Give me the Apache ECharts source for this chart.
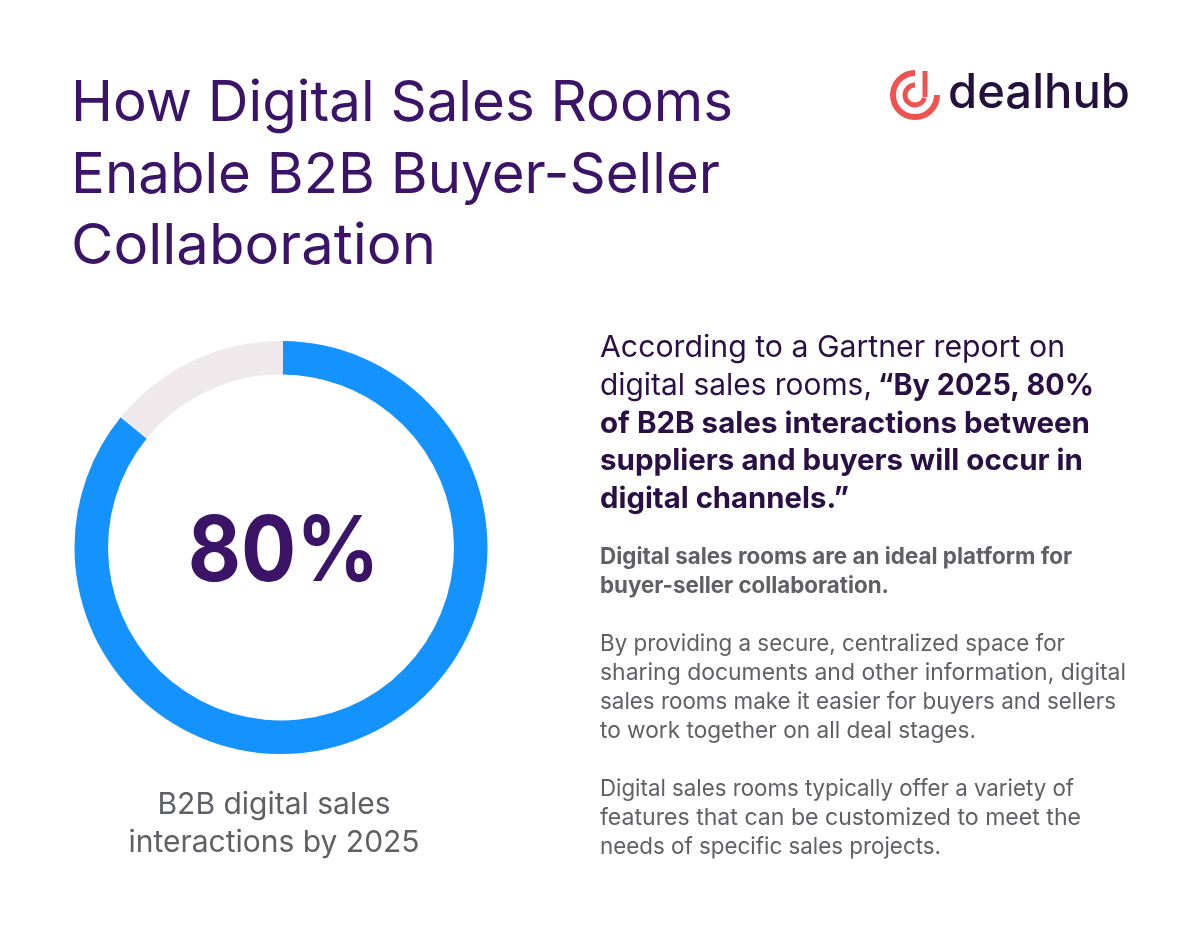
<!DOCTYPE html>
<html>
<head>
<meta charset="utf-8">
<style>
html, body { margin: 0; padding: 0; background: #fff; }
#main { width: 1200px; height: 931px; }
</style>
</head>
<body>
<div id="main"></div>
<script src="https://cdn.jsdelivr.net/npm/echarts@6/dist/echarts.min.js"></script>
<script>
// values
const sliceNames = ['B2B digital sales interactions by 2025', 'Other'];
const sliceValues = [85.7, 14.3];
const sliceColors = ['#1493ff', '#f0e9ec'];
const centerLabel = '80%';
const titleLines = ['How Digital Sales Rooms', 'Enable B2B Buyer-Seller', 'Collaboration'];
const captionLines = ['B2B digital sales', 'interactions by 2025'];
const introLines = [
    ['According to a Gartner report on', 'n'],
    ['digital sales rooms,', 'n', '“By 2025, 80%', 'b'],
    ['of B2B sales interactions between', 'b'],
    ['suppliers and buyers will occur in', 'b'],
    ['digital channels.”', 'b']
];
const subLines = ['Digital sales rooms are an ideal platform for', 'buyer-seller collaboration.'];
const bodyLines = [
    'By providing a secure, centralized space for',
    'sharing documents and other information, digital',
    'sales rooms make it easier for buyers and sellers',
    'to work together on all deal stages.',
    '',
    'Digital sales rooms typically offer a variety of',
    'features that can be customized to meet the',
    'needs of specific sales projects.'
];

// right edge of each line in the reference, the font here is a bit different
const titleEnds = [733, 720, 436];
const introEnds = [1065, 1090, 1083, 849];
const subEnds = [1072, 889];
const bodyEnds = [1065, 1126, 1116, 976, 0, 1074, 1081, 941];

const FONT = 'Inter, "Noto Sans", sans-serif';
const PURPLE = '#3b1468';
const DARK = '#2a0f45';
const GREY = '#5f5f66';
const CORAL = '#ef5350';

const measure = document.createElement('canvas').getContext('2d');
let graphics = [];

function addText(text, x, y, size, color, weight, align, endX) {
    const font = (weight || 400) + ' ' + size + 'px ' + FONT;
    let sx = 1;
    if (endX) {
        measure.font = font;
        sx = (endX - x) / measure.measureText(text).width;
    }
    graphics.push({
        type: 'text', x: x, y: y, scaleX: sx,
        style: { text: text, fill: color, font: font, textAlign: align || 'left', textVerticalAlign: 'middle' }
    });
}

titleLines.forEach((t, i) => addText(t, 71, 104.5 + i * 71.5, 56.5, PURPLE, 400, 'left', titleEnds[i]));
captionLines.forEach((t, i) => addText(t, 274, 804.5 + i * 38, 30, GREY, 400, 'center'));

// intro, first part of second line is normal weight
const introY = [348, 386, 424, 461, 499];
addText(introLines[0][0], 600, introY[0], 30.3, DARK, 400, 'left', introEnds[0]);
addText(introLines[1][0], 600, introY[1], 30, DARK, 400, 'left', 872);
addText(introLines[1][2], 878, introY[1], 29.5, DARK, 700, 'left', 1094);
for (let i = 2; i < introLines.length; i++) {
    addText(introLines[i][0], 600, introY[i], 29.5, DARK, 700, 'left', introEnds[i - 1]);
}
subLines.forEach((t, i) => addText(t, 600, 557 + i * 29, 22.4, GREY, 700, 'left', subEnds[i]));
bodyLines.forEach((t, i) => { if (t) addText(t, 600, 644 + i * 29, 22.9, GREY, 400, 'left', bodyEnds[i]); });

// logo
graphics.push({ type: 'arc', shape: { cx: 915, cy: 95, r: 22, startAngle: -Math.PI / 2, endAngle: 0, clockwise: false }, style: { stroke: CORAL, fill: 'none', lineWidth: 6 } });
graphics.push({ type: 'arc', shape: { cx: 915, cy: 95, r: 10, startAngle: -Math.PI / 2, endAngle: Math.PI * 0.1, clockwise: false }, style: { stroke: CORAL, fill: 'none', lineWidth: 5 } });
graphics.push({ type: 'line', shape: { x1: 925, y1: 71, x2: 925, y2: 97 }, style: { stroke: CORAL, lineWidth: 5 } });
addText('dealhub', 948, 93.5, 47.5, '#24103c', 500, 'left', 1130);

const chart = echarts.init(document.getElementById('main'), null, { renderer: 'canvas' });
chart.setOption({
    animation: false,
    backgroundColor: '#fff',
    series: [{
        type: 'pie',
        center: [281, 547.5],
        radius: [173, 206.5],
        startAngle: 89.45,
        clockwise: true,
        silent: true,
        label: { show: false },
        labelLine: { show: false },
        data: sliceNames.map((n, i) => ({ name: n, value: sliceValues[i], itemStyle: { color: sliceColors[i] } }))
    }],
    graphic: { elements: graphics.concat([{
        type: 'text', x: 283.5, y: 554, scaleX: 0.9,
        style: { text: centerLabel, fill: PURPLE, font: '700 91px ' + FONT, textAlign: 'center', textVerticalAlign: 'middle' }
    }]) }
});
</script>
</body>
</html>
